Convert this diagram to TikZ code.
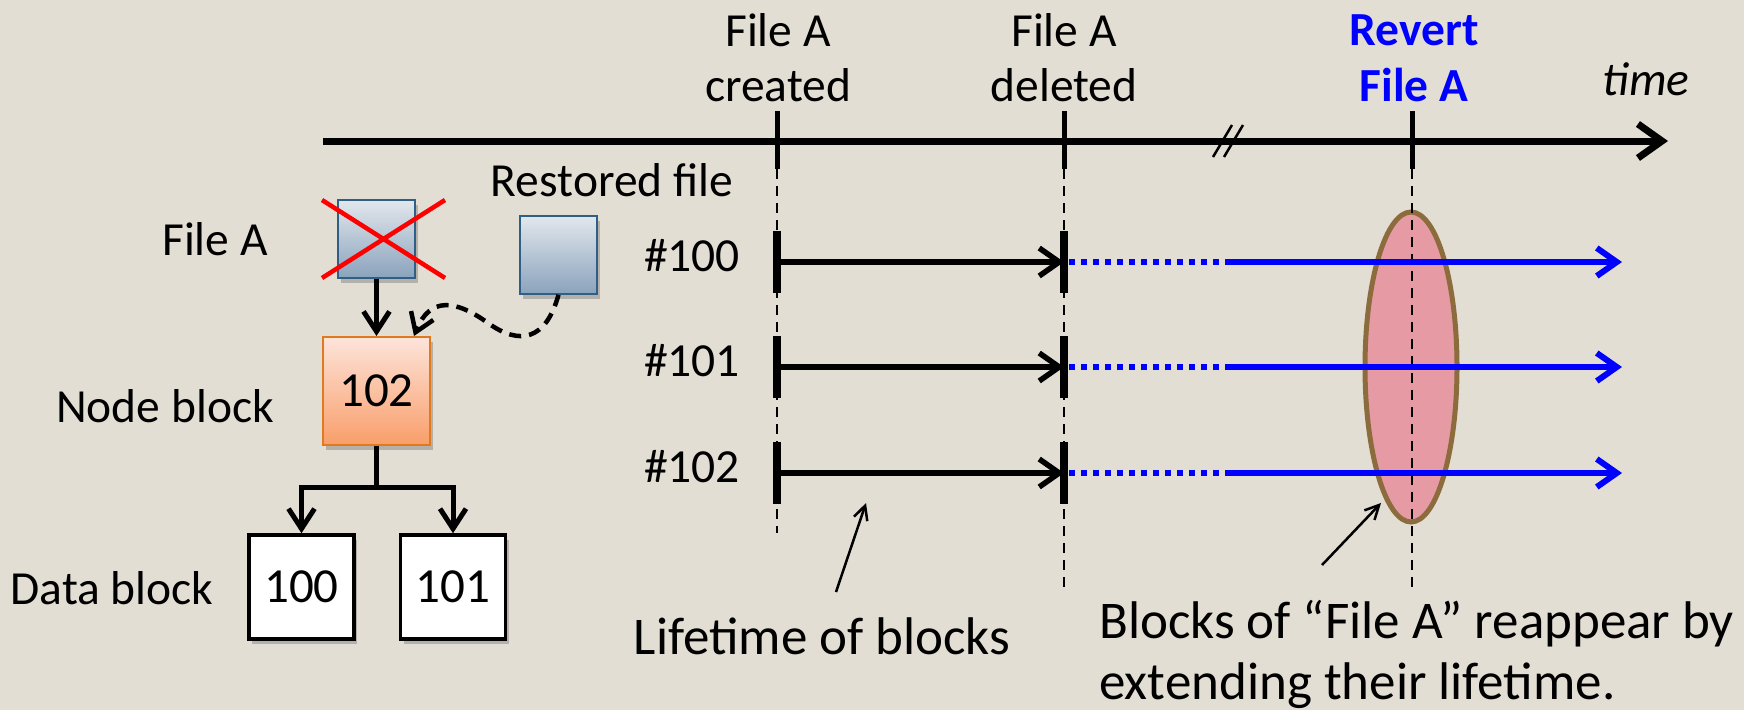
\documentclass[tikz,border=0pt]{standalone}
\usepackage{fontspec}
\setmainfont{Carlito}
\usetikzlibrary{arrows.meta,shadows,calc}
\definecolor{bg}{HTML}{E3DED3}
\definecolor{fileTop}{HTML}{E2E7EC}
\definecolor{fileBot}{HTML}{8AA3BD}
\definecolor{fileEdge}{HTML}{2F5F86}
\definecolor{nodeTop}{HTML}{FDE4DA}
\definecolor{nodeBot}{HTML}{F99E6A}
\definecolor{nodeEdge}{HTML}{E07A1E}
\definecolor{ellFill}{HTML}{E59AA4}
\definecolor{ellEdge}{HTML}{8C6B3C}
\definecolor{revblue}{HTML}{0000FF}
\tikzset{
  lbl/.style={font=\fontsize{47.5}{55}\selectfont, inner sep=0pt, anchor=base},
  ann/.style={font=\fontsize{53}{56}\selectfont, inner sep=0pt, anchor=base west},
  shade/.style={drop shadow={shadow xshift=3pt, shadow yshift=-5pt, opacity=0.3, fill=black!70}},
  filebox/.style={shade, draw=fileEdge, line width=1.5pt, top color=fileTop, bottom color=fileBot, minimum width=77pt, minimum height=78pt, inner sep=0pt},
  nodebox/.style={shade, draw=nodeEdge, line width=2pt, top color=nodeTop, bottom color=nodeBot, minimum width=107pt, minimum height=108pt, inner sep=0pt, font=\fontsize{49}{55}\selectfont},
  databox/.style={shade, draw=black, fill=white, line width=3.5pt, minimum width=105pt, minimum height=104pt, inner sep=0pt, font=\fontsize{49}{55}\selectfont},
  treearrow/.style={line width=5pt, -{Straight Barb[length=20pt, width=26pt]}},
  vdash/.style={line width=2pt, dash pattern=on 10pt off 7pt},
  bar/.style={line width=8pt},
  lifearrow/.style={line width=5.5pt, -{Straight Barb[length=20pt, width=28pt]}},
  bluedot/.style={revblue, line width=6pt, dash pattern=on 6pt off 6pt},
  bluearrow/.style={revblue, line width=6pt, -{Straight Barb[length=20pt, width=28pt]}},
  thinarrow/.style={line width=2.5pt, -{Straight Barb[length=14pt, width=14pt]}},
}
\begin{document}
\begin{tikzpicture}[x=1pt,y=-1pt]
\fill[bg] (0,0) rectangle (1744,710);
\useasboundingbox (0,0) rectangle (1744,710);

% ---------- left: blocks ----------
\node[lbl] (lblFileA) at (215,255) {File A};
\node[lbl] (lblRest) at (612,196) {Restored file};
\node[lbl] (lblNode) at (165,422) {Node block};
\node[lbl] (lblData) at (112,604) {Data block};

\node[filebox] (fileA) at (376.5,239) {};
\node[filebox] (rest) at (558.5,255) {};
\node[nodebox] (n102) at (376.5,391) {102};
\node[databox] (d100) at (301.5,587) {100};
\node[databox] (d101) at (453,587) {101};

\coordinate (x1) at (322,200);
\coordinate (x2) at (445,278);
\coordinate (x3) at (445,200);
\coordinate (x4) at (322,278);
\draw[red, line width=4.5pt] (x1) -- (x2);
\draw[red, line width=4.5pt] (x3) -- (x4);

\draw[treearrow] (fileA.south) -- (n102.north);
\coordinate (jn) at (376.5,487);
\draw[line width=5pt] (n102.south) -- (jn);
\draw[treearrow] (jn) -| (d100.north);
\draw[treearrow] (jn) -| (d101.north);
\coordinate (rtip) at (414,336);
\draw[line width=4.5pt, dash pattern=on 12pt off 8pt, -{Straight Barb[length=18pt, width=24pt]}]
  (rest.south) .. controls (546,340) and (520,346) .. (488,323)
  .. controls (456,300) and (430,296) .. (rtip);

% ---------- timeline ----------
\coordinate (axL) at (323,141);
\coordinate (axR) at (1668,141);
\coordinate (t1) at (777,141);
\coordinate (t2) at (1064,141);
\coordinate (t3) at (1412,141);

\node[lbl, align=center, anchor=base] (lblC) at (778,101) {File A\\created};
\node[lbl, align=center, anchor=base] (lblD) at (1064,101) {File A\\deleted};
\node[lbl, align=center, anchor=base, text=revblue, font=\fontsize{47.5}{56}\selectfont\bfseries] (lblR) at (1414,101) {Revert\\File A};
\node[lbl, font=\fontsize{47.5}{55}\selectfont\itshape] (lblT) at (1646,95) {time};

% ellipse
\fill[ellFill, draw=ellEdge, line width=5pt] (1411,367) ellipse [x radius=46, y radius=155];

% dashed verticals
\draw[vdash] (777,169) -- (777,533);
\draw[vdash] (1064,169) -- (1064,593);
\draw[vdash] (1412,169) -- (1412,593);

% axis
\draw[line width=7pt, -{Straight Barb[length=24pt, width=34pt]}] (axL) -- (axR);
\foreach \t in {t1,t2,t3} \draw[line width=5pt] ($(\t)+(0,-30)$) -- ($(\t)+(0,28)$);
\draw[line width=2.5pt] (1213,157) -- (1232,125);
\draw[line width=2.5pt] (1224,157) -- (1243,125);

% rows
\foreach \r/\lab in {262/100, 367/101, 473/102} {
  \node[lbl] (row\lab) at (692,\r+9.5) {\#\lab};
  \coordinate (s\lab) at (777,\r);
  \coordinate (e\lab) at (1064,\r);
  \coordinate (m\lab) at (1229,\r);
  \coordinate (f\lab) at (1622,\r);
  \draw[bar] (777,\r-31) -- (777,\r+31);
  \draw[bar] (1064,\r-31) -- (1064,\r+31);
  \draw[lifearrow] (s\lab) -- (e\lab);
  \draw[bluedot] ($(e\lab)+(5,0)$) -- (m\lab);
  \draw[bluearrow] (m\lab) -- (f\lab);
}

% annotations
\node[lbl, font=\fontsize{53}{56}\selectfont] (lblLife) at (822,654) {Lifetime of blocks};
\node[ann] (lblBlk1) at (1099,638) {Blocks of “File A” reappear by};
\node[ann] (lblBlk2) at (1099,699) {extending their lifetime.};
\coordinate (la) at (836,592);
\coordinate (lb) at (866,503);
\coordinate (ba) at (1322,565);
\coordinate (bb) at (1381,503);
\draw[thinarrow] (la) -- (lb);
\draw[thinarrow] (ba) -- (bb);
\end{tikzpicture}
\end{document}
